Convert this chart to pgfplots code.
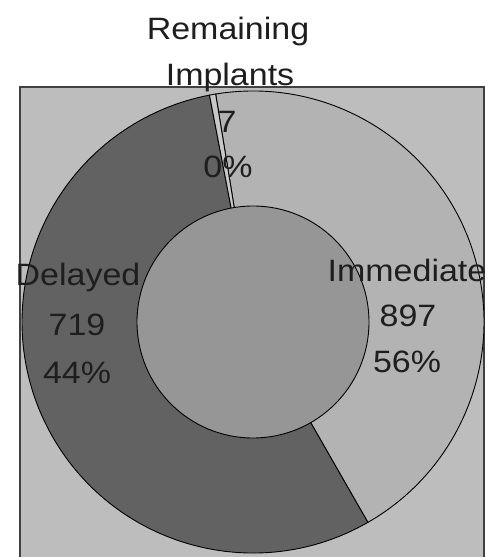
\documentclass[border=0pt]{standalone}
\usepackage{pgfplots}
\pgfplotsset{compat=1.18}
\usepackage{pgfplotstable}
\usepackage{graphicx}
\usepackage{fontspec}
\setmainfont{Liberation Sans}

\definecolor{bggrey}{HTML}{BDBDBD}
\definecolor{lightslice}{HTML}{B3B3B3}
\definecolor{darkslice}{HTML}{626262}
\definecolor{tinyslice}{HTML}{C8C8C8}
\definecolor{holegrey}{HTML}{969696}
\definecolor{txt}{HTML}{1E1E1E}

% ring slices in drawing order (clockwise from the top, as in the picture)
\pgfplotstableread{
slice value
light 719
dark  897
tiny  7
}\slices

\pgfplotstablegetelem{0}{value}\of\slices \let\vA\pgfplotsretval
\pgfplotstablegetelem{1}{value}\of\slices \let\vB\pgfplotsretval
\pgfplotstablegetelem{2}{value}\of\slices \let\vC\pgfplotsretval
\pgfmathsetmacro{\tot}{\vA+\vB+\vC}
\pgfmathsetmacro{\aA}{99.3}
\pgfmathsetmacro{\aB}{\aA-360*(\vA/\tot)}
\pgfmathsetmacro{\aC}{\aB-360*(\vB/\tot)}
\pgfmathsetmacro{\aD}{\aC-360*(\vC/\tot)}

\newcommand{\lab}[1]{\scalebox{1.1}[1]{#1}}

\begin{document}
\begin{tikzpicture}
\begin{axis}[
  scale only axis, width=493bp, height=557bp,
  xmin=0, xmax=493, ymin=0, ymax=557,
  hide axis, clip=true,
]
% plot area
\fill[bggrey] (axis cs:20,0) rectangle (axis cs:484,470);
\draw[darkgray, line width=1.2bp] (axis cs:20,0) -- (axis cs:20,470) -- (axis cs:484,470) -- (axis cs:484,0);
% ring slices
\filldraw[fill=lightslice, draw=black, line width=0.9bp]
  (axis cs:253,235) -- +(\aA:231bp) arc[start angle=\aA, end angle=\aB, radius=231bp] -- cycle;
\filldraw[fill=darkslice, draw=black, line width=0.9bp]
  (axis cs:253,235) -- +(\aB:231bp) arc[start angle=\aB, end angle=\aC, radius=231bp] -- cycle;
\filldraw[fill=tinyslice, draw=black, line width=0.9bp]
  (axis cs:253,235) -- +(\aC:231bp) arc[start angle=\aC, end angle=\aD, radius=231bp] -- cycle;
% hole
\filldraw[fill=holegrey, draw=black, line width=0.9bp] (axis cs:253,235) circle[radius=116bp];
% labels
\begin{scope}[every node/.style={text=txt, font=\fontsize{31}{31}\selectfont, inner sep=0pt}]
\node at (axis cs:228,525) {\lab{Remaining}};
\node at (axis cs:230,479) {\lab{Implants}};
\node at (axis cs:227,435) {\lab{7}};
\node at (axis cs:228,390) {\lab{0\%}};
\node at (axis cs:78,279) {\lab{Delayed}};
\node at (axis cs:77,232) {\lab{719}};
\node at (axis cs:77,184) {\lab{44\%}};
\node at (axis cs:407,287) {\lab{Immediate}};
\node at (axis cs:408,241) {\lab{897}};
\node at (axis cs:407,195) {\lab{56\%}};
\end{scope}
\end{axis}
\pgfresetboundingbox
\path[use as bounding box] (current axis.south west) rectangle (current axis.north east);
\end{tikzpicture}
\end{document}
